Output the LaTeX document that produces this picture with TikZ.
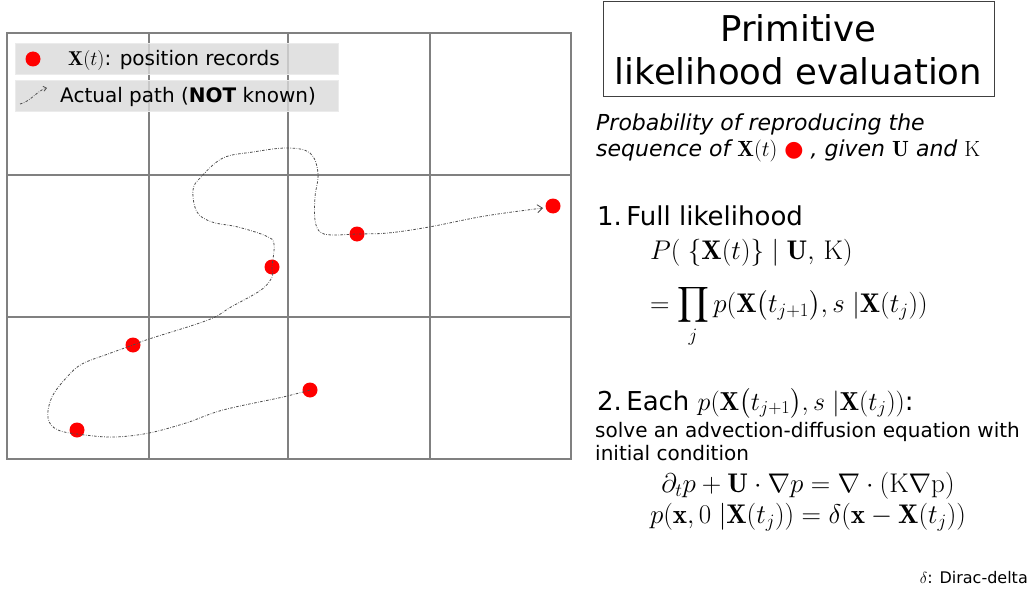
\RequirePackage{fix-cm}
\documentclass[tikz,border=0pt]{standalone}
\usepackage{amsmath}
\usepackage{fontspec}
\newfontfamily\vfont{DejaVu Sans}
\usetikzlibrary{arrows.meta}

\begin{document}
\begin{tikzpicture}[x=1pt,y=-1pt,
  cell/.style={draw=black!50,line width=1.2pt},
  dot/.style={circle,fill=red,inner sep=0pt,minimum size=15pt},
  legendbox/.style={fill=black!15,fill opacity=0.8,draw=black!8,minimum width=323pt,minimum height=31pt,inner sep=0pt},
  track/.style={draw=black!70,line width=0.8pt,dash pattern=on 2.5pt off 1.5pt on 0.6pt off 1.5pt},
  titlebox/.style={draw=black!75,line width=1pt,minimum width=391pt,minimum height=95pt,inner sep=0pt,align=center,font=\vfont\fontsize{35.5}{43}\selectfont},
  item/.style={anchor=base west,inner sep=0pt,font=\vfont\fontsize{26}{31}\selectfont},
  note/.style={anchor=base west,inner sep=0pt,font=\vfont\fontsize{20}{24}\selectfont},
  eq/.style={anchor=base,inner sep=0pt,font=\fontsize{27}{32}\selectfont}
]
  \useasboundingbox (0,0) rectangle (1036,591);

  % grid of cells
  \draw[cell] (7,33) rectangle (571,459);
  \foreach \gx in {149,288,430}
    \draw[cell] (\gx,33) -- (\gx,459);
  \foreach \gy in {175,317}
    \draw[cell] (7,\gy) -- (571,\gy);

  % legend
  \node[legendbox] (leg1) at (176.5,59) {};
  \node[legendbox] (leg2) at (176.5,95.5) {};
  \node[dot] (legdot) at (33,59) {};
  \node[note] (legrec) at (68,66) {$\mathbf{X}(t)$: position records};
  \coordinate (legA) at (20,104);
  \coordinate (legB) at (47,88);
  \draw[track,-{Straight Barb[length=3pt,width=5pt]}] (legA) .. controls (30,102) and (38,90) .. (legB);
  \node[note] (legpath) at (60,103) {Actual path (\textbf{NOT} known)};

  % position records
  \node[dot] (x1) at (310,390) {};
  \node[dot] (x2) at (77,430) {};
  \node[dot] (x3) at (133,345) {};
  \node[dot] (x4) at (272,267) {};
  \node[dot] (x5) at (357,234) {};
  \node[dot] (x6) at (553,206) {};

  % actual path
  \draw[track,-{Straight Barb[length=5pt,width=8pt]}] plot[smooth,tension=0.6] coordinates {
    (310,390) (283,397) (223,410) (186,423) (149,433) (115,437) (85,435) (58,430)
    (48,418) (52,397) (67,377) (82,364) (108,354) (133,345) (149,339) (208,320)
    (231,307) (261,290) (272,277) (272,267) (274,244) (266,236) (238,227) (212,222)
    (197,212) (193,190) (201,177) (223,158) (253,152) (287,148) (310,153) (318,173)
    (315,197) (315,220) (320,232) (332,235) (357,234) (388,233) (429,227) (485,216)
    (543,208)};

  % right column
  \node[titlebox] (title) at (798.5,49.5) {Primitive\\likelihood evaluation};
  \node[note,font=\vfont\itshape\fontsize{22}{26}\selectfont] (prob1) at (596,131) {Probability of reproducing the};
  \node[note,font=\vfont\itshape\fontsize{22}{26}\selectfont] (prob2) at (596,157)
    {sequence of $\mathbf{X}(t)$ \textcolor{red}{\upshape ●} , given $\mathbf{U}$ and $\mathrm{K}$};

  \node[item] (full) at (597,225) {1.\,Full likelihood};
  \node[eq,anchor=base west] (joint) at (650,259) {$P(\;\{\mathbf{X}(t)\}\;|\;\mathbf{U},\,\mathrm{K})$};
  \node[eq,anchor=base west] (prod) at (650,312)
    {$=\displaystyle\prod_j p(\mathbf{X}\bigl(t_{j+1}\bigr),s\;|\mathbf{X}(t_j))$};

  \node[item] (each) at (597,410) {2.\,Each $p(\mathbf{X}\bigl(t_{j+1}\bigr),s\;|\mathbf{X}(t_j))$:};
  \node[note] (solve) at (595,437) {solve an advection-diffusion equation with};
  \node[note] (init) at (595,460) {initial condition};
  \node[eq] (pde) at (808,492) {$\partial_t p+\mathbf{U}\cdot\nabla p=\nabla\cdot(\mathrm{K}\nabla\mathrm{p})$};
  \node[eq] (ic) at (808,523) {$p(\mathbf{x},0\;|\mathbf{X}(t_j))=\delta(\mathbf{x}-\mathbf{X}(t_j))$};
  \node[anchor=base east,inner sep=0pt,font=\vfont\fontsize{16}{19}\selectfont] (dirac) at (1028,583) {$\delta$: Dirac-delta};
\end{tikzpicture}
\end{document}
